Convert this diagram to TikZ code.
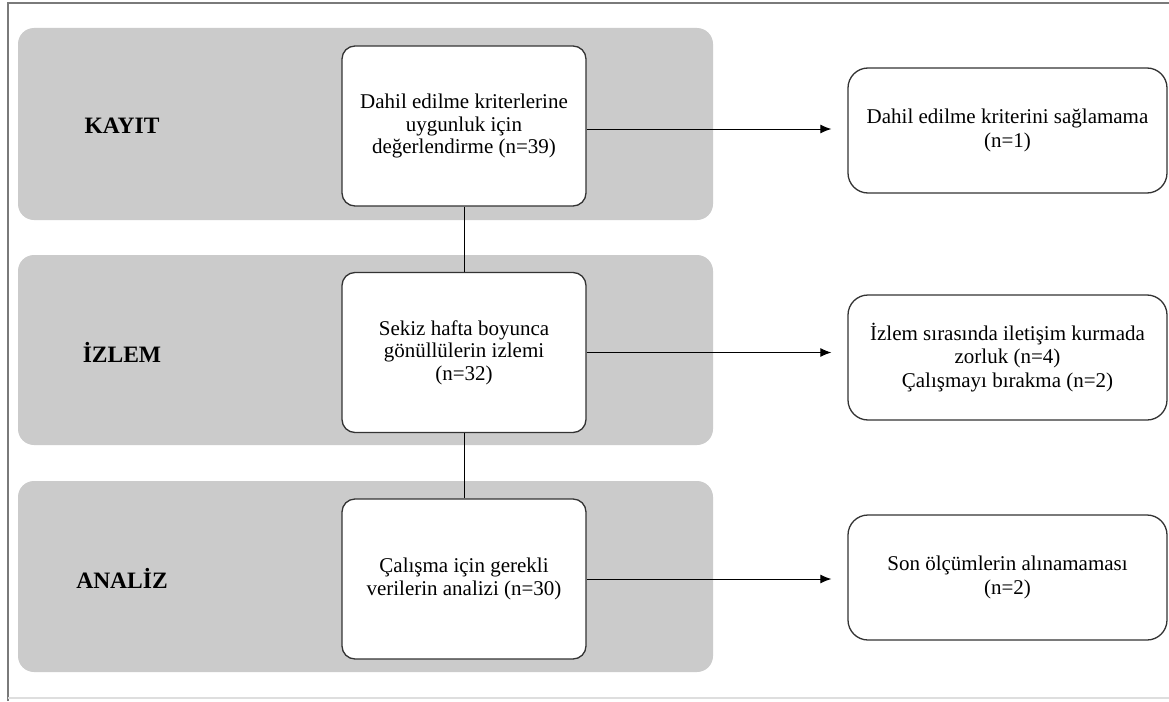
\documentclass[tikz,border=0pt]{standalone}
\usepackage{fontspec}
\setmainfont{Liberation Serif}
\usetikzlibrary{arrows.meta}
\definecolor{bandgray}{HTML}{CBCBCB}
\definecolor{framegray}{HTML}{7A7A7A}
\definecolor{boxline}{HTML}{333333}
\tikzset{
  band/.style={fill=bandgray, draw=none, rounded corners=16pt},
  mainbox/.style={draw=boxline, line width=1.3pt, fill=white, rounded corners=13pt,
    minimum width=244pt, minimum height=160pt, align=center, inner sep=0pt,
    font=\fontsize{21}{22.5}\selectfont},
  sidebox/.style={draw=boxline, line width=1.3pt, fill=white, rounded corners=20pt,
    minimum width=319pt, minimum height=125pt, align=center, inner sep=0pt,
    font=\fontsize{21}{23.5}\selectfont},
  phase/.style={font=\fontsize{23.5}{25}\selectfont\bfseries, inner sep=0pt},
  conn/.style={draw=black, line width=1pt},
  arr/.style={conn, -{Latex[length=11pt,width=9pt]}, shorten >=16pt}
}
\begin{document}
\begin{tikzpicture}[x=1pt,y=-1pt]
\useasboundingbox (0,0) rectangle (1169,701);
% page frame
\draw[framegray, line width=2pt] (8,701) -- (8,3) -- (1169,3);
\draw[black!13, line width=1.5pt] (8,698) -- (1169,698);
% bands
\path[band] (18,28) rectangle (713,220);
\path[band] (18,255) rectangle (713,445);
\path[band] (18,481) rectangle (713,672);
% phase labels
\node[phase] (l1) at (122,126) {KAYIT};
\node[phase] (l2) at (122,352) {İZLEM};
\node[phase] (l3) at (122,578) {ANALİZ};
% main boxes
\node[mainbox] (b1) at (464,126) {Dahil edilme kriterlerine\\uygunluk için\\değerlendirme (n=39)};
\node[mainbox] (b2) at (464,352.5) {Sekiz hafta boyunca\\gönüllülerin izlemi\\(n=32)};
\node[mainbox] (b3) at (464,579) {Çalışma için gerekli\\verilerin analizi (n=30)};
% side boxes
\node[sidebox] (r1) at (1007.5,130.5) {Dahil edilme kriterini sağlamama\\(n=1)};
\node[sidebox] (r2) at (1007.5,357.5) {İzlem sırasında iletişim kurmada\\zorluk (n=4)\\Çalışmayı bırakma (n=2)};
\node[sidebox] (r3) at (1007.5,577.5) {Son ölçümlerin alınamaması\\(n=2)};
% connectors
\draw[conn] (b1.south) -- (b2.north);
\draw[conn] (b2.south) -- (b3.north);
\draw[arr] ([yshift=-3pt]b1.east) -- ([yshift=-3pt]b1.east -| r1.west);
\draw[arr] (b2.east) -- (b2.east -| r2.west);
\draw[arr] (b3.east) -- (b3.east -| r3.west);
\end{tikzpicture}
\end{document}
